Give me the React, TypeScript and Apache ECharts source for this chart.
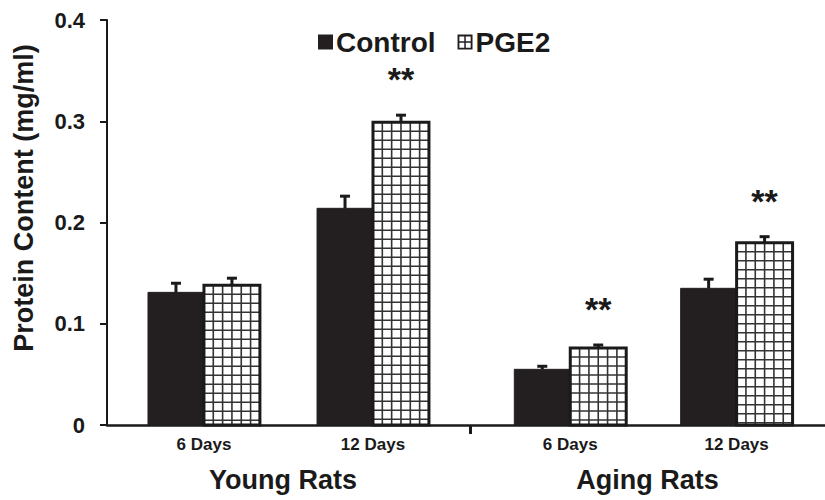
import React, { useEffect, useRef } from "react";
import * as echarts from "echarts";

// ---- data ----
const dayLabels = ["6 Days", "12 Days", "6 Days", "12 Days"];
const groupLabels = ["Young Rats", "Aging Rats"];
const positions = [1, 2.006, 3.18, 4.17];
const groupCenters = [1.47, 3.64];
const separator = 2.583;
const controlValues = [0.131, 0.214, 0.055, 0.135];
const controlErrors = [0.009, 0.012, 0.003, 0.009];
const pgeValues = [0.138, 0.299, 0.076, 0.18];
const pgeErrors = [0.007, 0.007, 0.003, 0.006];
const pgeMarks = ["", "**", "**", "**"];
const yTicks = [0, 0.1, 0.2, 0.3, 0.4];

const X_MIN = 0.423;
const X_MAX = 4.696;
const BAR_UNITS = 0.333;
const FONT = '"Liberation Sans", Arial, sans-serif';
const INK = "#1a1a1a";
const BAR = "#231f20";

function findIndex(arr: number[], v: number) {
  for (let i = 0; i < arr.length; i++) if (Math.abs(arr[i] - v) < 1e-6) return i;
  return -1;
}

function makeRender(kind: "control" | "pge") {
  return (params: any, api: any) => {
    const x = api.value(0);
    const v = api.value(1);
    const e = api.value(2);
    const idx = params.dataIndex;
    const base = api.coord([x, 0]);
    const top = api.coord([x, v]);
    const errTop = api.coord([x, v + e]);
    const w = api.size([BAR_UNITS, 0])[0];
    const left = kind === "control" ? base[0] - w : base[0];
    const cx = left + w / 2;
    const h = base[1] - top[1];
    const children: any[] = [];
    if (kind === "control") {
      children.push({
        type: "rect",
        shape: { x: left, y: top[1], width: w, height: h },
        style: { fill: BAR, stroke: BAR, lineWidth: 1 },
      });
    } else {
      children.push({
        type: "rect",
        shape: { x: left, y: top[1], width: w, height: h },
        style: { fill: "#ffffff" },
      });
      for (let k = 1; k < 6; k++) {
        const lx = left + (w * k) / 6;
        children.push({
          type: "line",
          shape: { x1: lx, y1: top[1], x2: lx, y2: base[1] },
          style: { stroke: "#333", lineWidth: 1.6 },
        });
      }
      for (let yy = top[1] + 9; yy < base[1] - 2; yy += 9) {
        children.push({
          type: "line",
          shape: { x1: left, y1: yy, x2: left + w, y2: yy },
          style: { stroke: "#333", lineWidth: 1.6 },
        });
      }
      children.push({
        type: "rect",
        shape: { x: left, y: top[1], width: w, height: h },
        style: { fill: "none", stroke: INK, lineWidth: 3 },
      });
    }
    children.push({
      type: "line",
      shape: { x1: cx, y1: top[1], x2: cx, y2: errTop[1] },
      style: { stroke: INK, lineWidth: 3 },
    });
    children.push({
      type: "line",
      shape: { x1: cx - 5, y1: errTop[1], x2: cx + 5, y2: errTop[1] },
      style: { stroke: INK, lineWidth: 3 },
    });
    if (kind === "pge" && pgeMarks[idx]) {
      children.push({
        type: "text",
        style: {
          text: pgeMarks[idx],
          x: cx,
          y: errTop[1] - 36,
          align: "center",
          verticalAlign: "middle",
          fontFamily: FONT,
          fontWeight: "bold",
          fontSize: 34,
          fill: INK,
        },
      });
    }
    return { type: "group", children };
  };
}

export default function App() {
  const ref = useRef<HTMLDivElement>(null);
  useEffect(() => {
    if (!ref.current) return;
    const chart = echarts.init(ref.current, null, { renderer: "svg" });
    const controlData = positions.map((p, i) => [p, controlValues[i], controlErrors[i]]);
    const pgeData = positions.map((p, i) => [p, pgeValues[i], pgeErrors[i]]);
    chart.setOption({
      animation: false,
      backgroundColor: "#ffffff",
      grid: { left: 107, right: 0, top: 20, bottom: 75 },
      legend: {
        left: 318,
        top: 28,
        padding: 0,
        itemWidth: 15,
        itemHeight: 15,
        itemGap: 22,
        selectedMode: false,
        textStyle: { fontFamily: FONT, fontWeight: "bold", fontSize: 28, color: INK, padding: [0, 0, 0, -2] },
        data: [
          { name: "Control", icon: "rect" },
          {
            name: "PGE2",
            icon: "path://M0,0H20V2.5H0Z M0,17.5H20V20H0Z M0,0H2.5V20H0Z M17.5,0H20V20H17.5Z M9,0H11V20H9Z M0,9H20V11H0Z",
          },
        ],
      },
      xAxis: [
        {
          type: "value",
          min: X_MIN,
          max: X_MAX,
          axisLine: { show: true, onZero: false, lineStyle: { color: INK, width: 2.5 } },
          splitLine: { show: false },
          axisTick: { show: true, customValues: [separator], length: 9, lineStyle: { color: INK, width: 3 } },
          axisLabel: {
            customValues: positions,
            formatter: (v: number) => {
              const i = findIndex(positions, v);
              return i >= 0 ? dayLabels[i] : "";
            },
            fontFamily: FONT,
            fontWeight: "bold",
            fontSize: 17,
            color: INK,
            margin: 11,
          },
        },
        {
          type: "value",
          min: X_MIN,
          max: X_MAX,
          position: "bottom",
          offset: 40,
          axisLine: { show: false },
          axisTick: { show: false },
          splitLine: { show: false },
          axisLabel: {
            customValues: groupCenters,
            formatter: (v: number) => {
              const i = findIndex(groupCenters, v);
              return i >= 0 ? groupLabels[i] : "";
            },
            fontFamily: FONT,
            fontWeight: "bold",
            fontSize: 27,
            color: INK,
            margin: 1,
          },
        },
      ],
      yAxis: {
        type: "value",
        min: yTicks[0],
        max: yTicks[yTicks.length - 1],
        interval: 0.1,
        axisLine: { show: true, lineStyle: { color: INK, width: 2 } },
        axisTick: { show: true, length: 7, lineStyle: { color: INK, width: 2 } },
        splitLine: { show: false },
        axisLabel: {
          formatter: (v: number) => (v === 0 ? "0" : v.toFixed(1)),
          fontFamily: FONT,
          fontWeight: "bold",
          fontSize: 22,
          color: INK,
          margin: 22,
        },
      },
      graphic: [
        {
          type: "text",
          x: 24,
          y: 198,
          rotation: Math.PI / 2,
          style: {
            text: "Protein Content (mg/ml)",
            align: "center",
            verticalAlign: "middle",
            fontFamily: FONT,
            fontWeight: "bold",
            fontSize: 27,
            fill: INK,
          },
        },
      ],
      series: [
        {
          name: "Control",
          type: "custom",
          xAxisIndex: 0,
          itemStyle: { color: BAR },
          encode: { x: 0, y: 1 },
          clip: false,
          renderItem: makeRender("control"),
          data: controlData,
        },
        {
          name: "PGE2",
          type: "custom",
          xAxisIndex: 0,
          itemStyle: { color: BAR },
          encode: { x: 0, y: 1 },
          clip: false,
          renderItem: makeRender("pge"),
          data: pgeData,
        },
      ],
    });
    return () => chart.dispose();
  }, []);
  return (
    <div
      ref={ref}
      style={{ position: "absolute", left: 0, top: 0, width: 825, height: 500, background: "#fff" }}
    />
  );
}
